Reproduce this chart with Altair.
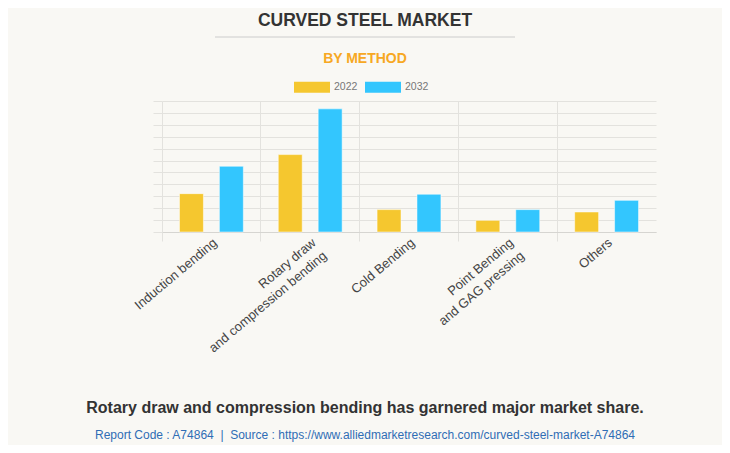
import altair as alt
import pandas as pd

categories = ["Induction bending", "Rotary draw|and compression bending", "Cold Bending",
              "Point Bending|and GAG pressing", "Others"]
years = ["2022", "2032"]
v2022 = [3.22, 6.5, 1.88, 0.98, 1.68]
v2032 = [5.52, 10.34, 3.17, 1.88, 2.66]
colors = ["#f5c72f", "#33c6fe"]

title_text = "CURVED STEEL MARKET"
subtitle_text = "BY METHOD"
footer_text = "Rotary draw and compression bending has garnered major market share."
source_text = "Report Code : A74864\u00a0 | \u00a0Source : https://www.alliedmarketresearch.com/curved-steel-market-A74864"

rows = []
for c, a, b in zip(categories, v2022, v2032):
    rows.append({"method": c, "year": "2022", "value": a})
    rows.append({"method": c, "year": "2032", "value": b})
df = pd.DataFrame(rows)

W, H = 494, 131
FONT = "Liberation Sans"
GRID = "#e3e2de"

bars = alt.Chart(df).mark_bar(stroke="#ffffff", strokeOpacity=0.5, strokeWidth=1).encode(
    x=alt.X("method:N", sort=categories, title=None,
            scale=alt.Scale(paddingInner=0, paddingOuter=0),
            axis=alt.Axis(bandPosition=0, grid=True, gridColor=GRID, gridWidth=1,
                          tickSize=9, tickColor=GRID, domainColor="#d6d5d1",
                          labelAngle=-40, labelAlign="right", labelBaseline="top",
                          labelPadding=-5,
                          labelExpr="split(datum.label, '|')",
                          labelFont=FONT, labelFontSize=13, labelColor="#444444",
                          labelLineHeight=17)),
    xOffset=alt.XOffset("year:N", sort=years,
                        scale=alt.Scale(paddingInner=0.4, paddingOuter=0.4375)),
    y=alt.Y("value:Q", title=None,
            scale=alt.Scale(domain=[0, 11], nice=False),
            axis=alt.Axis(values=list(range(0, 12)), labels=False, domain=False,
                          grid=True, gridColor=GRID, tickSize=9, tickColor=GRID)),
    color=alt.Color("year:N", sort=years,
                    scale=alt.Scale(domain=years, range=colors),
                    legend=alt.Legend(title=None, orient="none", legendX=132, legendY=-32,
                                      direction="horizontal",
                                      symbolType="M-1,-0.3H1V0.3H-1Z", symbolSize=1296,
                                      symbolStrokeWidth=0, labelOffset=4, columnPadding=7,
                                      labelFont=FONT, labelFontSize=10.5, labelColor="#777777")),
)

one = alt.Data(values=[{"k": 1}])

def text_layer(txt, x, y, size, color, weight="normal"):
    return alt.Chart(one).mark_text(text=txt, font=FONT, fontSize=size, color=color,
                                    fontWeight=weight, align="center", baseline="middle").encode(
        x=alt.value(x), y=alt.value(y))

title = text_layer(title_text, 203, -80, 17.5, "#333333", "bold")
divider = alt.Chart(one).mark_rule(color="#cccccc", strokeWidth=1).encode(
    x=alt.value(53), x2=alt.value(353), y=alt.value(-64))
subtitle = text_layer(subtitle_text, 203, -42, 14, "#f7a823", "bold")
footer = text_layer(footer_text, 203, 307, 16, "#333333", "bold")
source = text_layer(source_text, 203, 334, 12, "#2f6db5")

chart = alt.layer(bars, title, divider, subtitle, footer, source).properties(
    width=W, height=H,
    autosize=alt.AutoSizeParams(type="none"),
    padding={"left": 154, "top": 93, "right": 66, "bottom": 213},
    background="#f9f8f4",
).configure_view(strokeWidth=0)

chart.save("out.html", embed_options={"renderer": "svg", "actions": False})
